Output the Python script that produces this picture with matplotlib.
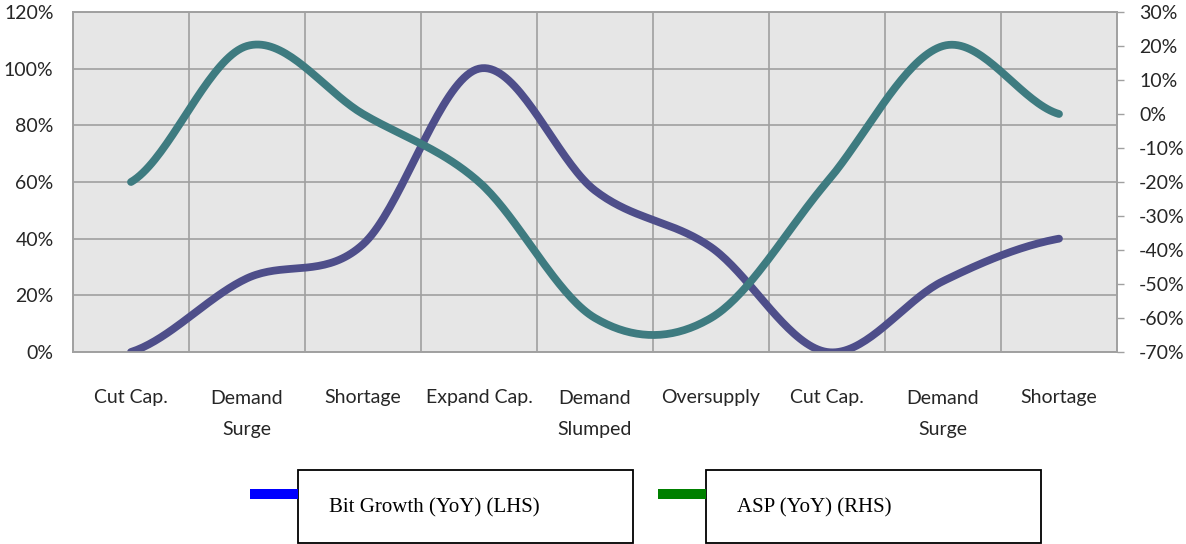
import matplotlib.pyplot as plt
import numpy as np
from matplotlib.patches import Rectangle
from matplotlib.ticker import FuncFormatter, MultipleLocator

plt.rcParams['font.family'] = ['Lato', 'DejaVu Sans']

phases = ["Cut Cap.", "Demand\nSurge", "Shortage", "Expand Cap.", "Demand\nSlumped",
          "Oversupply", "Cut Cap.", "Demand\nSurge", "Shortage"]
bit_growth = [0, 26, 38, 100, 57, 37, 0, 25, 40]      # % YoY, left axis
asp = [-20, 20, 0, -20, -60, -60, -20, 20, 0]          # % YoY, right axis

BIT_COL = "#4e4e8a"
ASP_COL = "#3e7b80"
GRID = "#a0a0a0"
TXT = "#262626"


def smooth(y, n=40):
    # catmull-rom style curve through the points (smoothed line)
    y = np.asarray(y, float)
    m = np.empty_like(y)
    m[1:-1] = (y[2:] - y[:-2]) / 2
    m[0] = (y[1] - y[0]) / 2
    m[-1] = (y[-1] - y[-2]) / 2
    xs, ys = [], []
    t = np.linspace(0, 1, n)
    h00 = 2 * t**3 - 3 * t**2 + 1
    h10 = t**3 - 2 * t**2 + t
    h01 = -2 * t**3 + 3 * t**2
    h11 = t**3 - t**2
    for i in range(len(y) - 1):
        xs.append(i + t)
        ys.append(h00 * y[i] + h10 * m[i] + h01 * y[i + 1] + h11 * m[i + 1])
    return np.concatenate(xs), np.concatenate(ys)


fig = plt.figure(figsize=(11.86, 5.44), dpi=100)
ax = fig.add_axes([73 / 1186, 1 - 352 / 544, 1044 / 1186, 340 / 544])
ax.set_facecolor("#e6e6e6")
ax2 = ax.twinx()

x1, y1 = smooth(bit_growth)
ax.plot(x1, y1, color=BIT_COL, lw=5.6, solid_capstyle="round", zorder=3)
x2, y2 = smooth(asp)
ax2.plot(x2, y2, color=ASP_COL, lw=5.6, solid_capstyle="round", zorder=3)

ax.set_xlim(-0.5, len(phases) - 0.5)
ax.set_ylim(0, 120)
ax2.set_ylim(-70, 30)

ax.yaxis.set_major_locator(MultipleLocator(20))
ax.yaxis.set_major_formatter(FuncFormatter(lambda v, p: f"{v:.0f}%"))
ax2.yaxis.set_major_locator(MultipleLocator(10))
ax2.yaxis.set_major_formatter(FuncFormatter(lambda v, p: f"{v:.0f}%"))

ax.set_xticks(range(len(phases)))
ax.set_xticklabels(phases, linespacing=2.0)
ax.set_xticks(np.arange(0.5, len(phases) - 1, 1), minor=True)
ax.tick_params(axis="x", which="major", length=0, pad=27, labelsize=14, labelcolor=TXT)
ax.tick_params(axis="x", which="minor", length=0)
ax.tick_params(axis="y", length=0, pad=14, labelsize=14, labelcolor=TXT)
ax2.tick_params(axis="y", length=5, width=1, color=GRID, pad=11, labelsize=14, labelcolor=TXT)

ax.grid(True, axis="y", which="major", color=GRID, lw=1.2)
ax.grid(True, axis="x", which="minor", color=GRID, lw=1.2)
ax.set_axisbelow(True)
for a in (ax, ax2):
    for s in a.spines.values():
        s.set_color(GRID)
        s.set_linewidth(1.2)

# legend boxes under the chart
for bx, bar_col, label in [(298, "#0000ff", "Bit Growth (YoY) (LHS)"),
                           (706, "#008000", "ASP (YoY) (RHS)")]:
    fig.patches.append(Rectangle((bx / 1186, 1 - 543 / 544), 335 / 1186, 73 / 544,
                                 transform=fig.transFigure, facecolor="white",
                                 edgecolor="black", lw=1.3))
    fig.patches.append(Rectangle(((bx - 48) / 1186, 1 - 499 / 544), 48 / 1186, 10 / 544,
                                 transform=fig.transFigure, facecolor=bar_col, edgecolor="none"))
    fig.text((bx + 31) / 1186, 1 - 508 / 544, label, family="Liberation Serif",
             fontsize=15, va="center", ha="left", color="black")

fig.savefig("out.png", dpi=100)
